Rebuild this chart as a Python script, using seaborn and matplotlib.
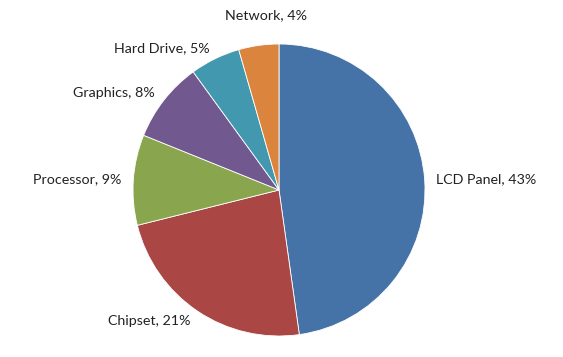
import numpy as np
import matplotlib
matplotlib.use('Agg')
import matplotlib.pyplot as plt
import seaborn as sns

components = ['LCD Panel', 'Chipset', 'Processor', 'Graphics', 'Hard Drive', 'Network']
shares = [43, 21, 9, 8, 5, 4]
colors = ['#4572A7', '#AA4643', '#89A54E', '#71588F', '#4198AF', '#DB843D']

sns.set_theme(style='white')
plt.rcParams['font.family'] = ['Lato', 'DejaVu Sans']

fig = plt.figure(figsize=(5.63, 3.57), dpi=100)
# pie centre around (279, 190) px, radius ~146 px
cx, cy, r = 279, 190, 146
ax = fig.add_axes([(cx - r) / 563, (357 - cy - r) / 357, 2 * r / 563, 2 * r / 357])

labels = [f'{c}, {s}%' for c, s in zip(components, shares)]
wedges, texts = ax.pie(shares, labels=labels, colors=colors, startangle=90,
                       counterclock=False, labeldistance=1.08,
                       wedgeprops=dict(edgecolor='white', linewidth=0.6),
                       textprops=dict(fontsize=10.3, color='#222222'))

# the small top slice label sits above the pie, centred
w = wedges[-1]
lo, hi = sorted([w.theta1, w.theta2])
ang = np.deg2rad(0.75 * lo + 0.25 * hi)
texts[-1].set_position((1.25 * np.cos(ang), 1.2))
texts[-1].set_ha('center')

ax.set_xlim(-1, 1)
ax.set_ylim(-1, 1)

plt.savefig('out.png', dpi=100)
